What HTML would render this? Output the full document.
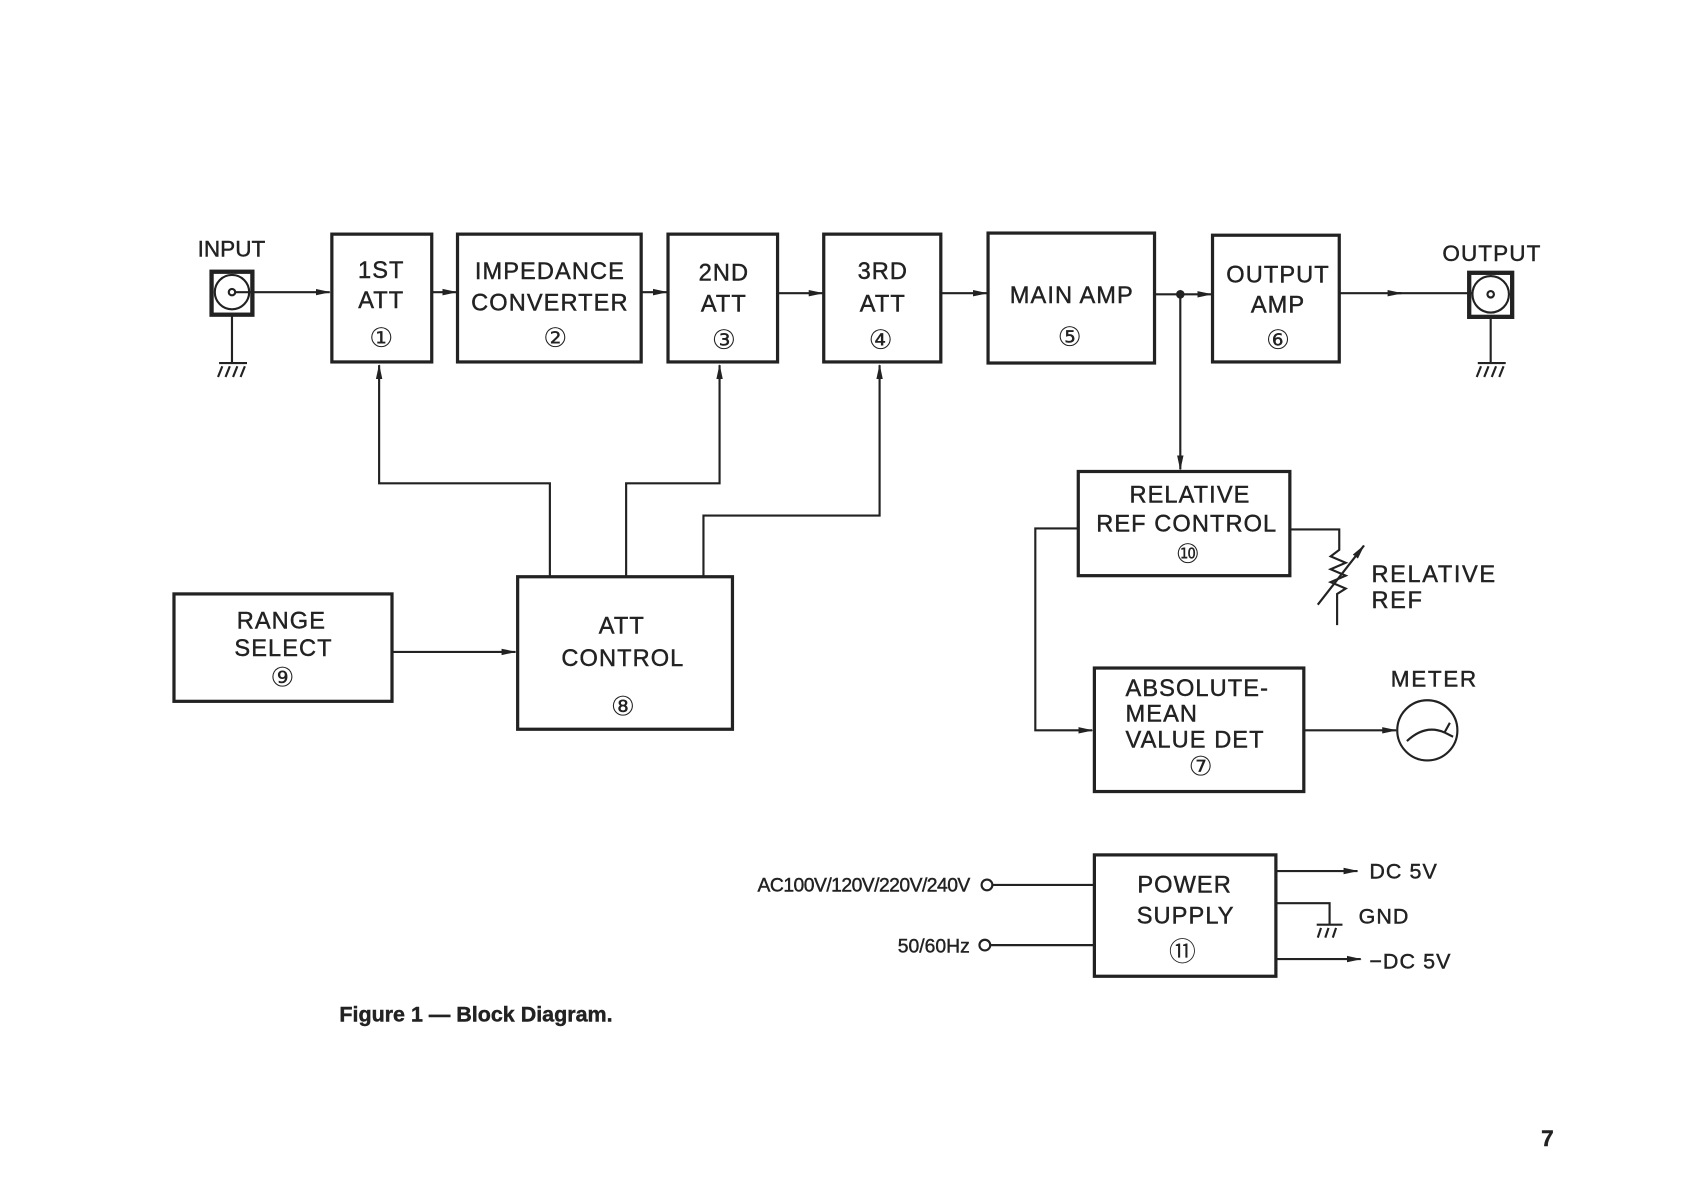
<!DOCTYPE html>
<html><head><meta charset="utf-8"><style>
html,body{margin:0;padding:0;background:#fff;}
svg{display:block;}
text{font-family:"Liberation Sans","DejaVu Sans",sans-serif;fill:#222;stroke:#222;stroke-width:0.4;}
.b{font-size:22px;letter-spacing:1px;text-anchor:middle;}
.n{font-size:25px;text-anchor:middle;font-family:"DejaVu Sans",sans-serif;stroke-width:0;}
</style></head><body>
<svg width="1684" height="1190" viewBox="0 0 1568 1108" xmlns="http://www.w3.org/2000/svg">
<defs><marker id="a" markerWidth="14" markerHeight="8" refX="13" refY="4" orient="auto" markerUnits="userSpaceOnUse"><path d="M0,1 L14,4 L0,7 Z" fill="#222"/></marker></defs>
<g stroke="#222" fill="none" stroke-width="3">
<rect x="309" y="218" width="93" height="119"/>
<rect x="426" y="218" width="171" height="119"/>
<rect x="622" y="218" width="102" height="119"/>
<rect x="767" y="218" width="109" height="119"/>
<rect x="920" y="217" width="155" height="121"/>
<rect x="1129" y="219" width="118" height="118"/>
<rect x="1004" y="439" width="197" height="97"/>
<rect x="1019" y="622" width="195" height="115"/>
<rect x="162" y="553" width="203" height="100"/>
<rect x="482" y="537" width="200" height="142"/>
<rect x="1019" y="796" width="169" height="113"/>
<rect x="197" y="253" width="38" height="40" stroke-width="4"/>
<rect x="1368" y="254" width="40" height="41" stroke-width="4"/>
</g>
<g stroke="#222" fill="none" stroke-width="2">
<circle cx="216" cy="272" r="16"/><circle cx="216" cy="272" r="3"/>
<circle cx="1388" cy="274" r="17"/><circle cx="1388" cy="274" r="3"/>
<path d="M219,272 H307" marker-end="url(#a)"/>
<path d="M402,272 H425" marker-end="url(#a)"/>
<path d="M597,272 H621" marker-end="url(#a)"/>
<path d="M724,273 H766" marker-end="url(#a)"/>
<path d="M876,273 H919" marker-end="url(#a)"/>
<path d="M1075,274 H1128" marker-end="url(#a)"/>
<path d="M1247,273 H1305" marker-end="url(#a)"/><path d="M1300,273 H1371"/>
<path d="M216,293 V337 M204,338 H230 M207,341 l-4,10 M214,341 l-4,10 M221,341 l-4,10 M228,341 l-4,10"/>
<path d="M1388,295 V337 M1376,338 H1402 M1379,341 l-4,10 M1386,341 l-4,10 M1393,341 l-4,10 M1400,341 l-4,10"/>
<path d="M1099,274 V437" marker-end="url(#a)"/>
<path d="M512,537 V450 H353 V340" marker-end="url(#a)"/>
<path d="M583,537 V450 H670 V340" marker-end="url(#a)"/>
<path d="M655,537 V480 H819 V340" marker-end="url(#a)"/>
<path d="M365,607 H480" marker-end="url(#a)"/>
<path d="M1004,492 H964 V680 H1017" marker-end="url(#a)"/>
<path d="M1214,680 H1300" marker-end="url(#a)"/>
<circle cx="1329" cy="680" r="28"/>
<path d="M1310,690 Q1327,674 1345,682 M1345,682 l5,-9 M1345,682 l8,4"/>
<path d="M1201,493 H1247 V512 l-8,6 l14,6 l-14,6 l14,6 l-14,6 l14,6 l-8,5 V582"/>
<path d="M1227,563 L1270,508" marker-end="url(#a)"/>
<path d="M921,824 H1019 M921,880 H1019"/>
<circle cx="919" cy="824" r="5" fill="#fff"/><circle cx="917" cy="880" r="5" fill="#fff"/>
<path d="M1188,811 H1264" marker-end="url(#a)"/>
<path d="M1188,893 H1267" marker-end="url(#a)"/>
<path d="M1188,841 H1238 V860 M1226,861 H1250 M1230,864 l-3,9 M1237,864 l-3,9 M1244,864 l-3,9"/>
</g>
<circle cx="1099" cy="274" r="4" fill="#222"/>
<text x="184" y="239" style="font-size:21px">INPUT</text>
<text x="1343" y="243" style="font-size:21px;letter-spacing:1px">OUTPUT</text>
<text class="b" x="355" y="259">1ST</text><text class="b" x="355" y="287">ATT</text><text class="n" x="355" y="323">①</text>
<text class="b" x="512" y="260">IMPEDANCE</text><text class="b" x="512" y="289">CONVERTER</text><text class="n" x="517" y="323">②</text>
<text class="b" x="674" y="261">2ND</text><text class="b" x="674" y="290">ATT</text><text class="n" x="674" y="325">③</text>
<text class="b" x="822" y="260">3RD</text><text class="b" x="822" y="290">ATT</text><text class="n" x="820" y="325">④</text>
<text class="b" x="998" y="282">MAIN AMP</text><text class="n" x="996" y="322">⑤</text>
<text class="b" x="1190" y="263">OUTPUT</text><text class="b" x="1190" y="291">AMP</text><text class="n" x="1190" y="325">⑥</text>
<text class="b" x="1108" y="468">RELATIVE</text><text class="b" x="1105" y="495">REF CONTROL</text><text class="n" x="1106" y="524">⑩</text>
<text x="1277" y="542" style="font-size:22px;letter-spacing:1.5px">RELATIVE</text><text x="1277" y="566" style="font-size:22px;letter-spacing:1.5px">REF</text>
<text x="1048" y="648" style="font-size:22px;letter-spacing:1px">ABSOLUTE-</text><text x="1048" y="672" style="font-size:22px;letter-spacing:1px">MEAN</text><text x="1048" y="696" style="font-size:22px;letter-spacing:1px">VALUE DET</text><text class="n" x="1118" y="722">⑦</text>
<text x="1295" y="639" style="font-size:21px;letter-spacing:1.5px">METER</text>
<text class="b" x="262" y="585">RANGE</text><text class="b" x="264" y="611">SELECT</text><text class="n" x="263" y="639">⑨</text>
<text class="b" x="579" y="590">ATT</text><text class="b" x="580" y="620">CONTROL</text><text class="n" x="580" y="666">⑧</text>
<text class="b" x="1103" y="831">POWER</text><text class="b" x="1104" y="860">SUPPLY</text><text class="n" x="1101" y="895">⑪</text>
<text x="903" y="830" style="font-size:18px;text-anchor:end;letter-spacing:-0.5px">AC100V/120V/220V/240V</text>
<text x="903" y="887" style="font-size:18px;text-anchor:end">50/60Hz</text>
<text x="1275" y="818" style="font-size:20px;letter-spacing:1px">DC 5V</text>
<text x="1265" y="860" style="font-size:20px;letter-spacing:1px">GND</text>
<text x="1275" y="902" style="font-size:20px;letter-spacing:1px">−DC 5V</text>
<text x="316" y="951" style="font-size:20px;font-weight:bold">Figure 1 — Block Diagram.</text>
<text x="1435" y="1067" style="font-size:21px;font-weight:bold">7</text>
</svg>
</body></html>
